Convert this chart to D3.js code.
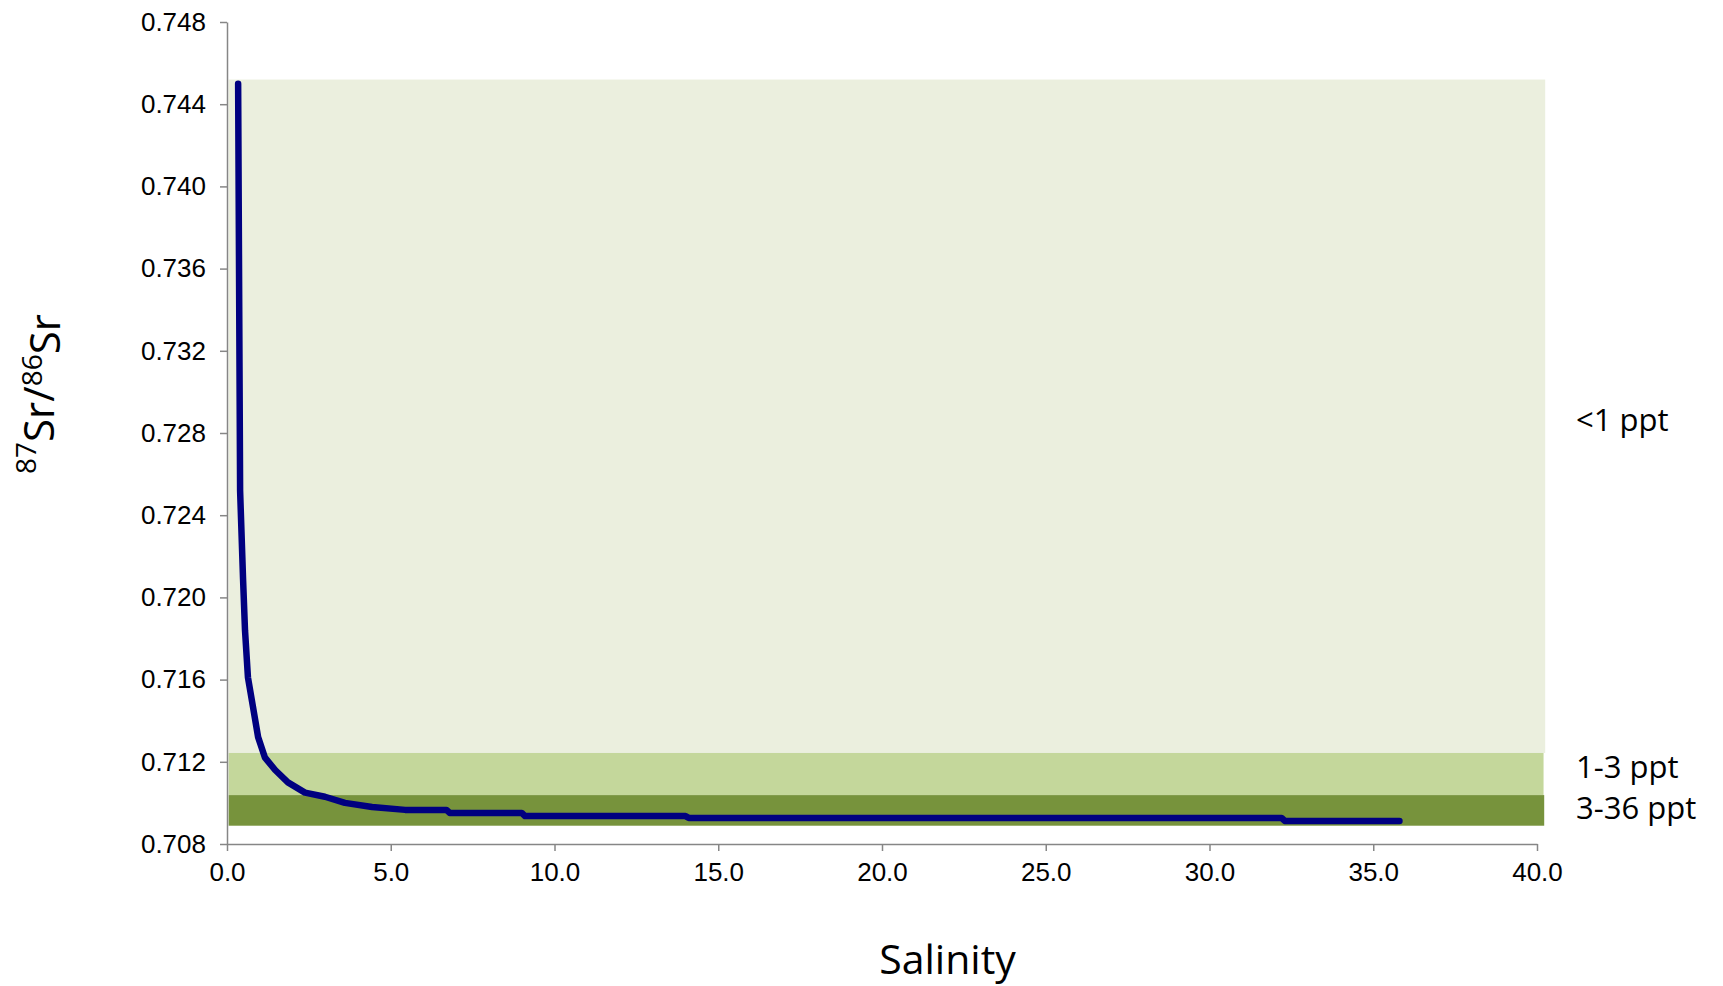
<!DOCTYPE html>
<html>
<head>
<meta charset="utf-8">
<script src="https://cdn.jsdelivr.net/npm/d3@7"></script>
<style>
  html, body { margin: 0; padding: 0; background: #fff; }
  #chart { width: 1723px; height: 986px; }
  .axis text { font-family: "Liberation Sans", Arial, sans-serif; font-size: 26px; fill: #000; }
  .axis path, .axis line { stroke: #868686; stroke-width: 1.5px; }
  .lbl { font-family: "Open Sans", sans-serif; fill: #000; }
</style>
</head>
<body>
<div id="chart"></div>
<script>
// mixing curve, salinity vs 87Sr/86Sr
const salinity = [0.34, 0.40, 0.49, 0.55, 0.64, 0.79, 0.95, 1.16, 1.47, 1.86, 2.38, 2.99, 3.60, 4.43, 5.44,
                  6.70, 6.80, 9.00, 9.10, 14.0, 14.1, 32.2, 32.3, 35.8];
const srRatio  = [0.7450, 0.7252, 0.7209, 0.7184, 0.7161, 0.7147, 0.7132, 0.7122, 0.7116, 0.7110, 0.7105,
                  0.7103, 0.7100, 0.7098, 0.70966, 0.70966, 0.70951, 0.70951, 0.70936, 0.70936, 0.70927,
                  0.70927, 0.70912, 0.70912];

// salinity bands shown as shaded ranges
const bandNames  = ["<1 ppt", "1-3 ppt", "3-36 ppt"];
const bandTop    = [0.7452, 0.71243, 0.71038];
const bandBottom = [0.71243, 0.71038, 0.70889];
const bandStart  = [0.05, 0.05, 0.05];
const bandEnd    = [40.25, 40.2, 40.22];
const bandColors = ["#ebefde", "#c4d79b", "#77933c"];
const bandLabelY = [0.7281, 0.71120, 0.70920];

const xTicks = [0, 5, 10, 15, 20, 25, 30, 35, 40];
const yTicks = [0.708, 0.712, 0.716, 0.720, 0.724, 0.728, 0.732, 0.736, 0.740, 0.744, 0.748];

const margin = {top: 22, right: 186, bottom: 142, left: 227};
const width = 1723 - margin.left - margin.right;
const height = 986 - margin.top - margin.bottom;

const svg = d3.select("#chart").append("svg")
    .attr("width", 1723)
    .attr("height", 986);

const g = svg.append("g")
    .attr("transform", "translate(" + margin.left + "," + margin.top + ")");

const x = d3.scaleLinear().domain([0, 40]).range([0, width]);
const y = d3.scaleLinear().domain([0.708, 0.748]).range([height, 0]);

// bands
const bands = bandNames.map((n, i) => ({name: n, top: bandTop[i], bottom: bandBottom[i],
    x0: bandStart[i], x1: bandEnd[i], color: bandColors[i], ly: bandLabelY[i]}));

g.selectAll(".band")
    .data(bands)
    .enter().append("rect")
    .attr("class", "band")
    .attr("x", d => x(d.x0))
    .attr("width", d => x(d.x1) - x(d.x0))
    .attr("y", d => y(d.top))
    .attr("height", d => y(d.bottom) - y(d.top))
    .attr("fill", d => d.color);

// band labels
g.selectAll(".bandLabel")
    .data(bands)
    .enter().append("text")
    .attr("class", "lbl bandLabel")
    .attr("x", width + 39)
    .attr("y", d => y(d.ly))
    .style("font-size", "31px")
    .text(d => d.name);

// axes
const xAxis = d3.axisBottom(x).tickValues(xTicks).tickFormat(d3.format(".1f")).tickSize(7).tickSizeOuter(0).tickPadding(12);
const yAxis = d3.axisLeft(y).tickValues(yTicks).tickFormat(d3.format(".3f")).tickSize(7).tickSizeOuter(0).tickPadding(14);

g.append("g")
    .attr("class", "x-axis axis")
    .attr("transform", "translate(0," + height + ")")
    .call(xAxis);

g.append("g")
    .attr("class", "y-axis axis")
    .call(yAxis);

// curve
const pts = salinity.map((s, i) => [s, srRatio[i]]);
const line = d3.line()
    .x(d => x(d[0]))
    .y(d => y(d[1]));

g.append("path")
    .datum(pts)
    .attr("fill", "none")
    .attr("stroke", "#000080")
    .attr("stroke-width", 6.5)
    .attr("stroke-linejoin", "round")
    .attr("stroke-linecap", "round")
    .attr("d", line);

// axis titles
svg.append("text")
    .attr("class", "lbl")
    .attr("x", margin.left + x(22))
    .attr("y", 974)
    .attr("text-anchor", "middle")
    .style("font-size", "41px")
    .text("Salinity");

const yt = svg.append("text")
    .attr("class", "lbl")
    .attr("transform", "translate(48,394) rotate(-90)")
    .attr("text-anchor", "middle")
    .style("font-size", "42px");
yt.append("tspan").attr("dy", "-0.42em").style("font-size", "28px").text("87");
yt.append("tspan").attr("dy", "0.42em").text("Sr/");
yt.append("tspan").attr("dy", "-0.42em").style("font-size", "28px").text("86");
yt.append("tspan").attr("dy", "0.42em").text("Sr");
</script>
</body>
</html>
